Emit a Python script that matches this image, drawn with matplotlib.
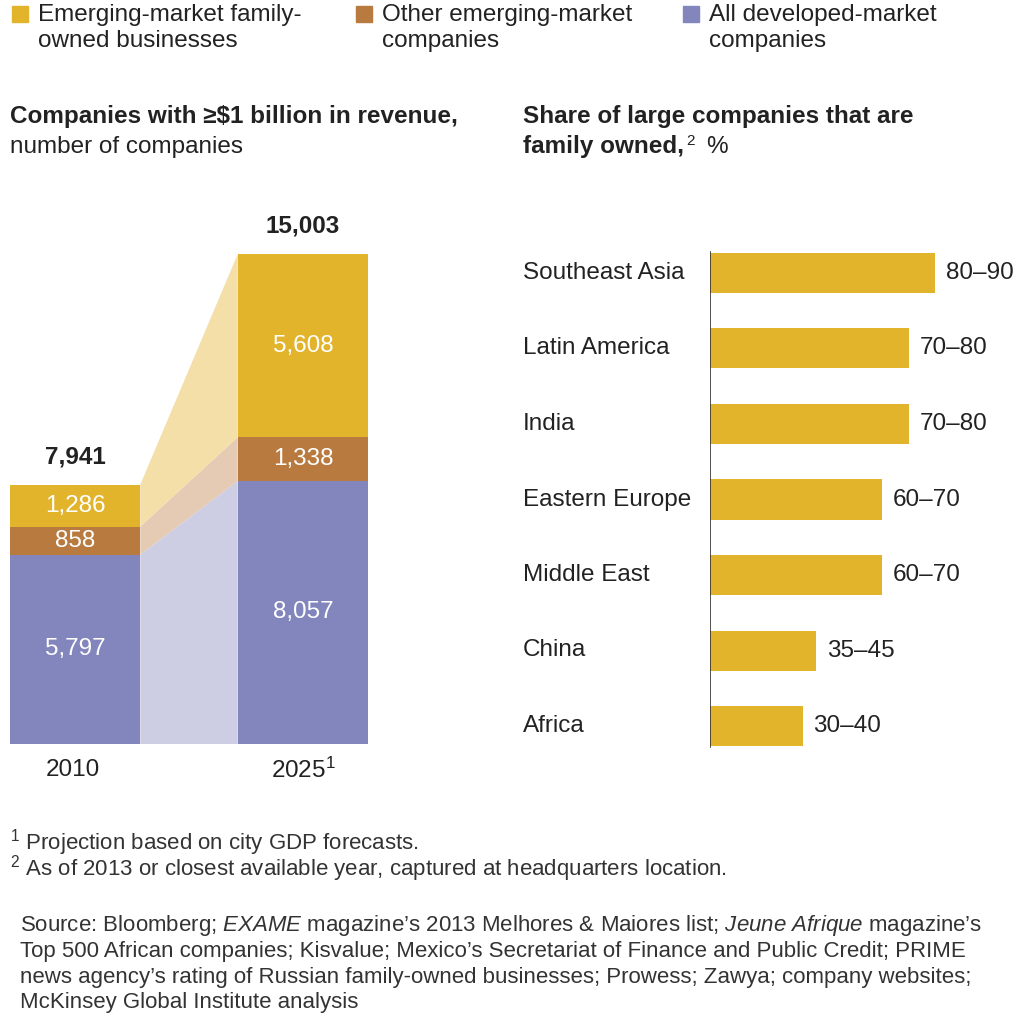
import matplotlib
matplotlib.use("Agg")
import matplotlib.pyplot as plt
from matplotlib.patches import Polygon

plt.rcParams['font.family'] = ['Liberation Sans', 'DejaVu Sans']
plt.rcParams['mathtext.fontset'] = 'custom'
plt.rcParams['mathtext.rm'] = 'Liberation Sans'
plt.rcParams['mathtext.it'] = 'Liberation Sans:italic'
plt.rcParams['mathtext.bf'] = 'Liberation Sans:bold'

years = ["2010", "2025"]
developed = [5797, 8057]
other_em = [858, 1338]
family_em = [1286, 5608]
totals = ["7,941", "15,003"]

regions = ["Southeast Asia", "Latin America", "India", "Eastern Europe", "Middle East", "China", "Africa"]
share_mid = [85, 75, 75, 65, 65, 40, 35]
share_labels = ["80–90", "70–80", "70–80", "60–70", "60–70", "35–45", "30–40"]

GOLD = "#E1B42C"; BROWN = "#B87A3E"; PURPLE = "#8385BD"
LGOLD = "#F5DFA8"; LBROWN = "#E5CAB4"; LPURPLE = "#CDCDE4"
TXT = '#222222'
FS = 17.5

W, H = 1022, 1032
fig = plt.figure(figsize=(W/100, H/100), dpi=100)
def fx(x): return x / W
def fy(y): return 1 - y / H

# Left chart
axl = fig.add_axes([fx(10), fy(744), (368-10)/W, (744-254)/H])
xs = [0, 1.7486]
bw = 1.0
axl.set_xlim(0, 2.7486); axl.set_ylim(0, 15003)
axl.axis('off')
b1 = [0, 0]; b2 = developed; b3 = [developed[i]+other_em[i] for i in range(2)]
tops = [b3[i]+family_em[i] for i in range(2)]
def band(ylo, yhi, c):
    axl.add_patch(Polygon([(xs[0]+bw, ylo[0]), (xs[1], ylo[1]), (xs[1], yhi[1]), (xs[0]+bw, yhi[0])],
                          closed=True, color=c, lw=0))
band(b1, b2, LPURPLE); band(b2, b3, LBROWN); band(b3, tops, LGOLD)
for i in range(2):
    axl.bar(xs[i], developed[i], bw, bottom=0, color=PURPLE, align='edge')
    axl.bar(xs[i], other_em[i], bw, bottom=b2[i], color=BROWN, align='edge')
    axl.bar(xs[i], family_em[i], bw, bottom=b3[i], color=GOLD, align='edge')
    cx = xs[i] + bw/2
    for val, bot in [(developed[i], 0), (other_em[i], b2[i]), (family_em[i], b3[i])]:
        axl.text(cx, bot + val/2, f"{val:,}", ha='center', va='center', color='white', fontsize=FS)
    axl.text(cx, tops[i] + 500, totals[i], ha='center', va='bottom', fontsize=FS, fontweight='bold', color=TXT)
fig.text(fx(73), fy(770), "2010", ha='center', va='center', fontsize=FS, color=TXT)
fig.text(fx(303), fy(770), "2025$^{1}$", ha='center', va='center', fontsize=FS, color=TXT)

# Right chart
axr = fig.add_axes([fx(710), fy(764), (1000-710)/W, (764-235)/H])
axr.set_xlim(0, 290/2.65); axr.set_ylim(6.5, -0.5)
axr.axis('off')
yy = list(range(len(regions)))
axr.barh(yy, share_mid, height=0.53, color=GOLD, left=0)
axr.plot([0, 0], [-0.27, 6.27], color='#333333', lw=1.2)
for i in yy:
    axr.text(share_mid[i] + 4, i, share_labels[i], va='center', ha='left', fontsize=FS, color=TXT)
    fig.text(fx(523), fy(273 + 75.5*i), regions[i], va='center', ha='left', fontsize=FS, color=TXT)

# Titles
fig.text(fx(10), fy(117), "Companies with ≥$1 billion in revenue,", fontsize=FS, fontweight='bold', va='center', color=TXT)
fig.text(fx(10), fy(147), "number of companies", fontsize=FS, va='center', color=TXT)
fig.text(fx(523), fy(117), "Share of large companies that are", fontsize=FS, fontweight='bold', va='center', color=TXT)
fig.text(fx(523), fy(147), "family owned,", fontsize=FS, fontweight='bold', va='center', color=TXT)
fig.text(fx(686), fy(141), "2", fontsize=11, va='center', color=TXT)
fig.text(fx(706), fy(147), "%", fontsize=FS, va='center', color=TXT)

# Legend
leg = [(GOLD, 12, "Emerging-market family-\nowned businesses"),
       (BROWN, 356, "Other emerging-market\ncompanies"),
       (PURPLE, 683, "All developed-market\ncompanies")]
for c, x, t in leg:
    fig.patches.append(plt.Rectangle((fx(x), fy(22)), 16/W, 16/H, color=c, transform=fig.transFigure))
    fig.text(fx(x+26), fy(28), t, fontsize=FS, va='center', ha='left', color=TXT, linespacing=1.2)

# Footnotes
FN = 16
fig.text(fx(10), fy(843), "$^{1}$ Projection based on city GDP forecasts.", fontsize=FN, va='center', color='#333333')
fig.text(fx(10), fy(869), "$^{2}$ As of 2013 or closest available year, captured at headquarters location.", fontsize=FN, va='center', color='#333333')
src = ["Source: Bloomberg; $\\it{EXAME}$ magazine’s 2013 Melhores & Maiores list; $\\it{Jeune\\ Afrique}$ magazine’s",
       "Top 500 African companies; Kisvalue; Mexico’s Secretariat of Finance and Public Credit; PRIME",
       "news agency’s rating of Russian family-owned businesses; Prowess; Zawya; company websites;",
       "McKinsey Global Institute analysis"]
for i, s in enumerate(src):
    fig.text(fx(20), fy(926 + 25.5*i), s, fontsize=FN, va='center', color='#333333')

fig.savefig("out.png", dpi=100)
